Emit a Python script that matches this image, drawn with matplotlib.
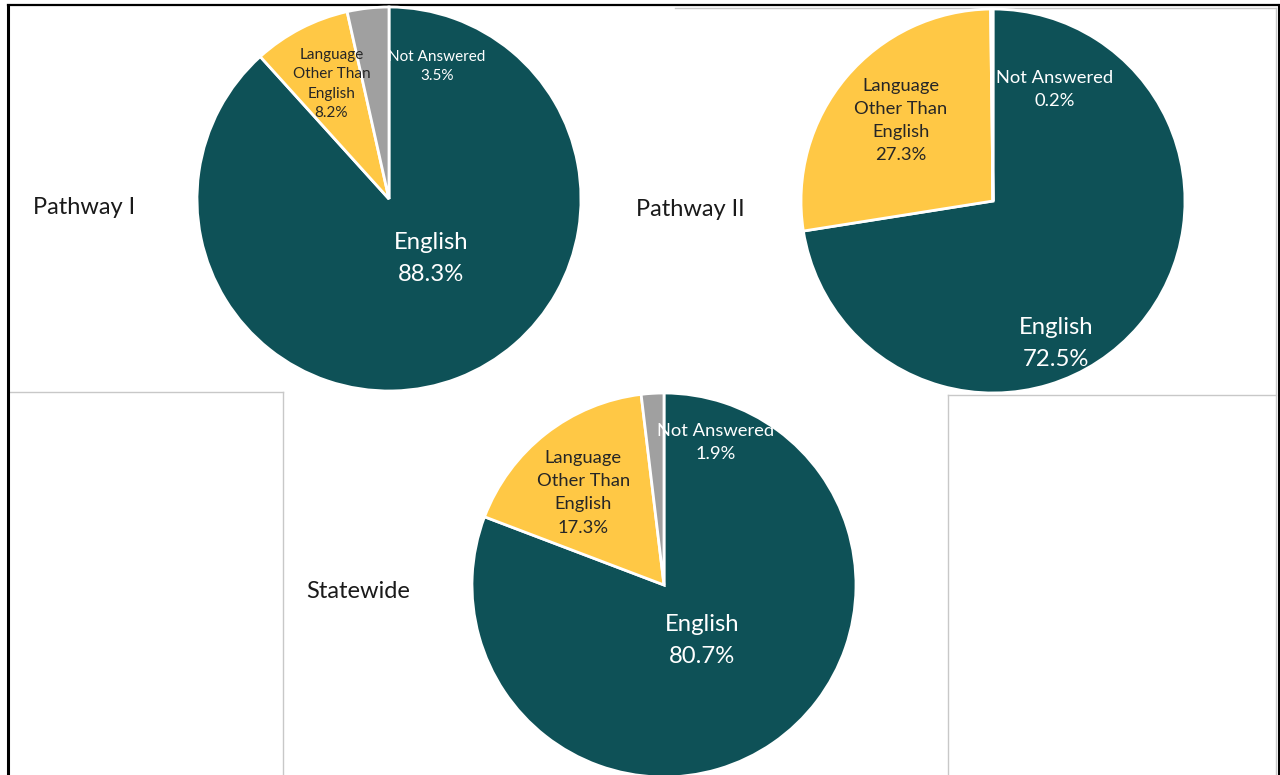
import matplotlib
matplotlib.use("Agg")
import matplotlib.pyplot as plt
from matplotlib.lines import Line2D

plt.rcParams['font.family'] = ['Lato', 'DejaVu Sans']

categories = ["English", "Language\nOther Than\nEnglish", "Not Answered"]
titles = ["Pathway I", "Pathway II", "Statewide"]
pathway1 = [88.3, 8.2, 3.5]
pathway2 = [72.5, 27.3, 0.2]
statewide = [80.7, 17.3, 1.9]
series = [pathway1, pathway2, statewide]

colors = ["#0E5157", "#FFC845", "#A0A0A0"]
text_colors = ["white", "#262626", "white"]

W, H = 1280, 775
fig = plt.figure(figsize=(W / 100, H / 100), dpi=100)
fig.patch.set_facecolor("white")

def px(x, y):
    return x / W, (H - y) / H

# panel frame lines (pixel coords)
def fline(x0, y0, x1, y1, color, lw):
    a = px(x0, y0)
    b = px(x1, y1)
    fig.add_artist(Line2D([a[0], b[0]], [a[1], b[1]], color=color, lw=lw,
                          transform=fig.transFigure, zorder=0))

gray = "#C8C8C8"
fline(675, 8, 1276, 8, gray, 1.0)
fline(1276, 8, 1276, 775, gray, 1.0)
fline(8, 392, 283, 392, gray, 1.0)
fline(283, 392, 283, 775, gray, 1.0)
fline(948, 395, 1276, 395, gray, 1.0)
fline(948, 395, 948, 775, gray, 1.0)
fline(8, 5, 1279, 5, "black", 1.6)
fline(8, 5, 8, 775, "black", 2.2)
fline(1279, 5, 1279, 775, "black", 2.2)

# layout per pie: center x, center y, radius (pixels)
layouts = [(389, 199, 192), (993, 201, 192), (664, 585, 192)]
title_pos = [(33, 207), (636, 209), (306, 592)]
label_offsets = [
    [(0.22, -0.31), (-0.30, 0.60), (0.25, 0.69)],
    [(0.33, -0.74), (-0.48, 0.42), (0.32, 0.58)],
    [(0.20, -0.29), (-0.42, 0.48), (0.27, 0.74)],
]
small_sizes = [11, 13.2, 13.2]
small_spacing = [1.5, 1.55, 1.55]

for i, vals in enumerate(series):
    cx, cy, r = layouts[i]
    x0, y1 = px(cx - r, cy - r)
    x1, y0 = px(cx + r, cy + r)
    ax = fig.add_axes([x0, y0, x1 - x0, y1 - y0])
    ax.pie(vals, colors=colors, startangle=90, counterclock=False,
           radius=1.0, wedgeprops=dict(edgecolor="white", linewidth=2.0))
    ax.set_xlim(-1, 1)
    ax.set_ylim(-1, 1)
    ax.set_aspect("equal")
    ax.axis("off")
    for j, (cat, v) in enumerate(zip(categories, vals)):
        dx, dy = label_offsets[i][j]
        if j == 0:
            fs, ls = 17.2, 1.65
        else:
            fs, ls = small_sizes[i], small_spacing[i]
        ax.text(dx, dy, f"{cat}\n{v:.1f}%", ha="center", va="center",
                color=text_colors[j], fontsize=fs, linespacing=ls,
                clip_on=False)
    tx, ty = px(*title_pos[i])
    fig.text(tx, ty, titles[i], ha="left", va="center", fontsize=17,
             color="#1a1a1a")

fig.savefig("out.png", dpi=100, facecolor="white")
